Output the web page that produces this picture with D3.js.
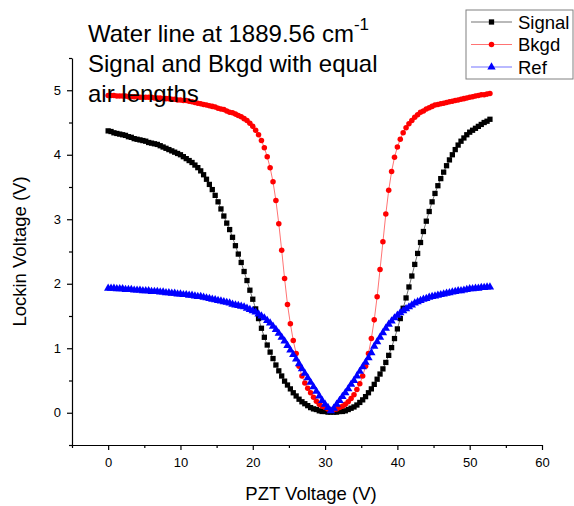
<!DOCTYPE html>
<html>
<head>
<meta charset="utf-8">
<script src="https://cdn.jsdelivr.net/npm/d3@7"></script>
<style>
  body { margin: 0; background: #fff; }
  svg text { font-family: "Liberation Sans", Arial, sans-serif; }
</style>
</head>
<body>
<div id="chart"></div>
<script>
// PZT voltage steps (V)
const pzt = [0,0.4,0.8,1.2,1.6,2,2.4,2.8,3.2,3.6,4,4.4,4.8,5.2,5.6,6,6.4,6.8,7.2,7.6,8,8.4,8.8,9.2,9.6,10,10.4,10.8,11.2,11.6,12,12.4,12.8,13.2,13.6,14,14.4,14.8,15.2,15.6,16,16.4,16.8,17.2,17.6,18,18.4,18.8,19.2,19.6,20,20.4,20.8,21.2,21.6,22,22.4,22.8,23.2,23.6,24,24.4,24.8,25.2,25.6,26,26.4,26.8,27.2,27.6,28,28.4,28.8,29.2,29.6,30,30.4,30.8,31.2,31.6,32,32.4,32.8,33.2,33.6,34,34.4,34.8,35.2,35.6,36,36.4,36.8,37.2,37.6,38,38.4,38.8,39.2,39.6,40,40.4,40.8,41.2,41.6,42,42.4,42.8,43.2,43.6,44,44.4,44.8,45.2,45.6,46,46.4,46.8,47.2,47.6,48,48.4,48.8,49.2,49.6,50,50.4,50.8,51.2,51.6,52,52.4,52.8]

const signal = [4.37,4.36,4.34,4.33,4.32,4.31,4.30,4.28,4.27,4.25,4.24,4.23,4.22,4.21,4.19,4.18,4.17,4.16,4.14,4.12,4.10,4.08,4.06,4.04,4.02,4.00,3.97,3.94,3.91,3.88,3.84,3.80,3.75,3.69,3.62,3.54,3.46,3.37,3.27,3.16,3.05,2.94,2.84,2.72,2.59,2.46,2.33,2.19,2.05,1.90,1.76,1.61,1.46,1.31,1.17,1.05,0.94,0.84,0.74,0.65,0.57,0.49,0.43,0.37,0.31,0.26,0.21,0.17,0.14,0.11,0.08,0.06,0.05,0.03,0.02,0.02,0.01,0.01,0.01,0.01,0.02,0.02,0.03,0.05,0.07,0.09,0.12,0.16,0.20,0.25,0.31,0.37,0.44,0.52,0.60,0.68,0.78,0.89,1.01,1.15,1.30,1.46,1.62,1.78,1.95,2.12,2.30,2.47,2.64,2.81,2.97,3.12,3.27,3.40,3.52,3.63,3.73,3.83,3.92,4.00,4.08,4.15,4.21,4.26,4.31,4.35,4.38,4.41,4.44,4.47,4.50,4.52,4.55]

const bkgd = [4.92,4.92,4.92,4.91,4.91,4.91,4.91,4.90,4.90,4.90,4.90,4.89,4.89,4.89,4.89,4.89,4.88,4.88,4.88,4.87,4.87,4.87,4.86,4.86,4.85,4.85,4.84,4.84,4.83,4.82,4.81,4.80,4.79,4.78,4.77,4.76,4.75,4.74,4.72,4.71,4.70,4.68,4.66,4.65,4.63,4.61,4.59,4.56,4.53,4.49,4.44,4.38,4.31,4.22,4.11,3.97,3.80,3.58,3.29,2.93,2.52,2.08,1.68,1.38,1.12,0.92,0.72,0.57,0.46,0.38,0.31,0.24,0.18,0.13,0.10,0.08,0.06,0.04,0.05,0.06,0.08,0.10,0.13,0.17,0.22,0.28,0.36,0.45,0.57,0.72,0.92,1.15,1.44,1.80,2.22,2.65,3.08,3.45,3.74,3.96,4.12,4.24,4.34,4.42,4.48,4.53,4.58,4.62,4.66,4.68,4.71,4.73,4.75,4.77,4.78,4.79,4.80,4.81,4.82,4.83,4.84,4.85,4.86,4.87,4.88,4.89,4.90,4.91,4.92,4.93,4.93,4.94,4.95]

const ref = [1.93,1.93,1.93,1.92,1.92,1.92,1.91,1.91,1.91,1.90,1.90,1.90,1.89,1.89,1.89,1.88,1.88,1.88,1.87,1.87,1.86,1.86,1.85,1.85,1.84,1.84,1.83,1.83,1.82,1.82,1.81,1.80,1.80,1.79,1.78,1.77,1.76,1.75,1.74,1.73,1.72,1.71,1.70,1.68,1.67,1.66,1.65,1.64,1.62,1.60,1.58,1.56,1.53,1.50,1.47,1.43,1.39,1.34,1.29,1.23,1.17,1.11,1.04,0.97,0.90,0.83,0.76,0.68,0.61,0.54,0.47,0.40,0.33,0.26,0.19,0.13,0.08,0.03,0.07,0.13,0.19,0.25,0.31,0.37,0.44,0.50,0.57,0.64,0.71,0.78,0.85,0.93,1.03,1.10,1.17,1.24,1.31,1.37,1.42,1.47,1.51,1.55,1.58,1.61,1.64,1.67,1.70,1.72,1.74,1.76,1.77,1.79,1.80,1.81,1.82,1.83,1.84,1.85,1.86,1.87,1.88,1.89,1.89,1.90,1.91,1.92,1.92,1.93,1.93,1.94,1.94,1.95,1.95]

const seriesNames = ["Signal", "Bkgd", "Ref"]
const seriesColors = ["#000000", "#ff0000", "#0000ff"]
const xTicks = [0, 10, 20, 30, 40, 50, 60]
const yTicks = [0, 1, 2, 3, 4, 5]
const titleLines = ["Water line at 1889.56 cm", "Signal and Bkgd with equal", "air lengths"]

const W = 574, H = 506
const margin = {top: 58, right: 32, bottom: 61, left: 72}
const width = W - margin.left - margin.right
const height = H - margin.top - margin.bottom

const svg = d3.select("#chart").append("svg")
    .attr("width", W)
    .attr("height", H)

const g = svg.append("g")
    .attr("transform", `translate(${margin.left},${margin.top})`)

const x = d3.scaleLinear().domain([-5, 60]).range([0, width])
const y = d3.scaleLinear().domain([-0.5, 5.5]).range([height, 0])

// bottom axis, major + minor ticks
g.append("g")
    .attr("transform", `translate(0,${height})`)
    .call(d3.axisBottom(x).tickValues(d3.range(-5, 61, 10)).tickSize(3).tickFormat(""))
    .call(a => a.select(".domain").remove())
g.append("g")
    .attr("class", "xaxis")
    .attr("transform", `translate(0,${height})`)
    .call(d3.axisBottom(x).tickValues(xTicks).tickSize(5).tickPadding(8).tickSizeOuter(0))

// left axis
g.append("g")
    .call(d3.axisLeft(y).tickValues(d3.range(-0.5, 5.6, 1)).tickSize(3).tickFormat(""))
    .call(a => a.select(".domain").remove())
g.append("g")
    .attr("class", "yaxis")
    .call(d3.axisLeft(y).tickValues(yTicks).tickFormat(d3.format("d")).tickSize(5).tickPadding(6).tickSizeOuter(0))

g.selectAll(".xaxis text, .yaxis text")
    .style("font-size", "13px")
    .style("font-family", "Liberation Sans, Arial, sans-serif")
    .attr("fill", "#000")
g.selectAll(".domain, .tick line").attr("stroke", "#000").attr("stroke-width", 1.2)

// axis titles
svg.append("text")
    .attr("x", margin.left + width / 2 + 4)
    .attr("y", 500)
    .attr("text-anchor", "middle")
    .style("font-size", "18.5px")
    .text("PZT Voltage (V)")
svg.append("text")
    .attr("transform", `translate(26,${margin.top + height / 2}) rotate(-90)`)
    .attr("text-anchor", "middle")
    .style("font-size", "18.5px")
    .text("Lockin Voltage (V)")

const allSeries = [signal, bkgd, ref]
const symbols = [d3.symbolSquare, d3.symbolCircle, d3.symbolTriangle]
const symSize = [28, 24, 30]

const line = d3.line().x(d => x(d[0])).y(d => y(d[1]))

allSeries.forEach((vals, i) => {
    const pts = pzt.map((p, k) => [p, vals[k]])
    g.append("path")
        .datum(pts)
        .attr("d", line)
        .attr("fill", "none")
        .attr("stroke", seriesColors[i])
        .attr("stroke-opacity", 0.55)
        .attr("stroke-width", 1)
    g.append("g")
        .selectAll("path")
        .data(pts)
        .join("path")
            .attr("transform", d => `translate(${x(d[0])},${y(d[1])})`)
            .attr("d", d3.symbol().type(symbols[i]).size(symSize[i]))
            .attr("fill", seriesColors[i])
})

// annotation text
const note = svg.append("text")
    .style("font-size", "24px")
    .attr("fill", "#000")
titleLines.forEach((t, i) => {
    note.append("tspan").attr("x", 88).attr("y", 42 + i * 30).text(t)
    if (i === 0) {
        note.append("tspan").attr("dy", -12).style("font-size", "17px").text("-1")
    }
})

// legend
const leg = svg.append("g").attr("transform", "translate(466,10)")
leg.append("rect")
    .attr("width", 107).attr("height", 69)
    .attr("fill", "#fff").attr("stroke", "#808080").attr("stroke-width", 1)
seriesNames.forEach((name, i) => {
    const ry = 12 + i * 22.5
    leg.append("line")
        .attr("x1", 5).attr("x2", 46).attr("y1", ry).attr("y2", ry)
        .attr("stroke", seriesColors[i]).attr("stroke-opacity", 0.55)
    leg.append("path")
        .attr("transform", `translate(25.5,${ry})`)
        .attr("d", d3.symbol().type(symbols[i]).size(symSize[i]))
        .attr("fill", seriesColors[i])
    leg.append("text")
        .attr("x", 52).attr("y", ry + 6.5)
        .style("font-size", "18.5px")
        .text(name)
})
</script>
</body>
</html>
